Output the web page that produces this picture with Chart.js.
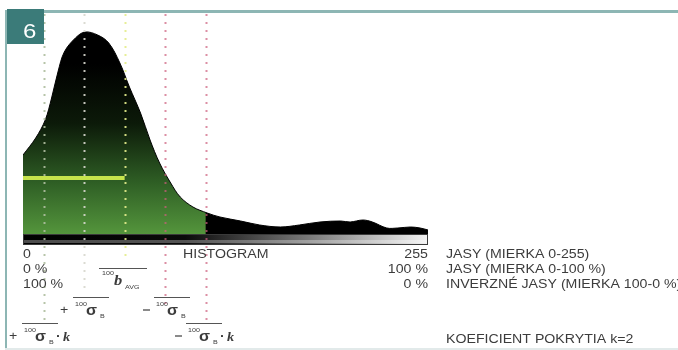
<!DOCTYPE html>
<html>
<head>
<meta charset="utf-8">
<script src="https://cdn.jsdelivr.net/npm/chart.js@4/dist/chart.umd.min.js"></script>
<style>
    html, body { margin: 0; padding: 0; background: #fff; }
    canvas { display: block; }
</style>
</head>
<body>
<canvas id="histChart" width="678" height="350"></canvas>
<script>
/* ======================
   DATA
====================== */
// brightness (0-255) and histogram height
const histX = [0, 8, 14, 18, 22, 26, 33, 39, 47, 54, 61, 67, 74, 80, 86, 93, 99, 107, 116, 124,
               137, 149, 162, 174, 187, 200, 206, 214, 220, 229, 236, 244, 250, 255];
const histY = [39.5, 48, 57, 68, 81, 91, 98, 101, 99.5, 95.5, 85.5, 73.5, 60.5, 47, 35.5, 25.5, 18.5, 13.5, 10.5, 8.5,
               6.5, 4.5, 3.5, 4.5, 6, 6.5, 6, 7, 6, 3, 3, 3.5, 3, 2];

// vertical markers: avg -/+ sigma*k, avg -/+ sigma, avg
const markerX = [13, 38.5, 64, 89.5, 115];
const avgLevel = [28];

// scale captions under the histogram
const scaleLeft = ["0", "0 %", "100 %"];
const scaleRight = ["255", "100 %", "0 %"];
const scaleNames = ["JASY (MIERKA 0-255)", "JASY (MIERKA 0-100 %)", "INVERZNÉ JASY (MIERKA 100-0 %)"];
const axisTitle = "HISTOGRAM";
const noteText = "KOEFICIENT POKRYTIA k=2";
const badgeText = "6";

/* ======================
   HELPERS
====================== */
const SANS = '"Liberation Sans", Arial, sans-serif';
const SERIF = '"Liberation Serif", "Times New Roman", serif';
const TEXT = "#3c3c3c";

function txt(ctx, s, x, y, font, color, align, sx) {
    ctx.save();
    ctx.translate(x, y);
    ctx.scale(sx || 1.18, 1);
    ctx.font = font;
    ctx.fillStyle = color || TEXT;
    ctx.textAlign = align || "left";
    ctx.textBaseline = "alphabetic";
    ctx.fillText(s, 0, 0);
    ctx.restore();
}

function hline(ctx, x1, x2, y, color, w) {
    ctx.save();
    ctx.strokeStyle = color;
    ctx.lineWidth = w || 1;
    ctx.beginPath();
    ctx.moveTo(x1, y);
    ctx.lineTo(x2, y);
    ctx.stroke();
    ctx.restore();
}

// overlined sigma label, x = start of the overline, oy = overline y
function sigmaLabel(ctx, sign, x, oy, withK) {
    const base = oy + 18;
    if (sign === "+") {
        txt(ctx, "+", x - 13, base - 1, "12px " + SANS);
    } else {
        hline(ctx, x - 11, x - 4, base - 5, TEXT, 1.2);
    }
    hline(ctx, x, x + 36, oy + 0.5, "#555", 1);
    txt(ctx, "100", x + 2, base - 9, "6px " + SANS);
    txt(ctx, "σ", x + 13, base, "bold 14px " + SANS, TEXT, "left", 1.15);
    txt(ctx, "B", x + 27, base + 3, "6px " + SANS);
    if (withK) {
        txt(ctx, "·", x + 34, base - 1, "bold 12px " + SANS);
        txt(ctx, "k", x + 41, base, "italic bold 13px " + SERIF, TEXT, "left", 1.1);
    }
}

let fillCache = null;
function histFill(context) {
    const chart = context.chart;
    const area = chart.chartArea;
    if (!area) return "#000";
    if (fillCache) return fillCache;
    const cut = chart.scales.x.getPixelForValue(markerX[4]);
    const off = document.createElement("canvas");
    off.width = chart.width;
    off.height = chart.height;
    const g = off.getContext("2d");
    g.fillStyle = "#000";
    g.fillRect(0, 0, off.width, off.height);
    const grad = g.createLinearGradient(0, area.top + 50, 0, area.bottom);
    grad.addColorStop(0, "#000000");
    grad.addColorStop(0.35, "#0c1a09");
    grad.addColorStop(0.7, "#2f5f25");
    grad.addColorStop(1, "#54953c");
    g.fillStyle = grad;
    g.fillRect(0, 0, cut, off.height);
    fillCache = chart.ctx.createPattern(off, "no-repeat");
    return fillCache;
}

/* ======================
   DECORATION PLUGIN
====================== */
const decor = {
    id: "decor",
    beforeDraw(chart) {
        const ctx = chart.ctx;
        ctx.save();
        ctx.fillStyle = "#fff";
        ctx.fillRect(0, 0, chart.width, chart.height);
        ctx.restore();
    },
    afterDatasetsDraw(chart) {
        const ctx = chart.ctx;
        const xs = chart.scales.x;
        const area = chart.chartArea;
        const x0 = xs.getPixelForValue(0);
        const x1 = xs.getPixelForValue(255);

        /* brightness bar */
        const barTop = area.bottom, barH = 11;
        ctx.save();
        const bg = ctx.createLinearGradient(x0, 0, x1, 0);
        bg.addColorStop(0, "#000");
        bg.addColorStop(0.4, "#0a0a0a");
        bg.addColorStop(0.7, "#777");
        bg.addColorStop(1, "#f2f2f2");
        ctx.fillStyle = bg;
        ctx.fillRect(x0, barTop, x1 - x0, barH);
        ctx.fillStyle = "rgba(255,255,255,0.3)";
        ctx.fillRect(x0, barTop + 6, x1 - x0, 3);
        ctx.strokeStyle = "#3a3a3a";
        ctx.lineWidth = 1;
        ctx.strokeRect(x0 + 0.5, barTop + 0.5, x1 - x0 - 1, barH - 1);
        ctx.restore();

        /* dotted marker lines */
        const dotColors = ["rgba(175,190,160,0.9)", "rgba(215,215,205,0.9)", "rgba(228,236,140,0.9)",
                           "rgba(205,95,125,0.7)", "rgba(205,95,125,0.7)"];
        const dotEnds = [326, 294, 262, 306, 320];
        markerX.forEach((v, i) => {
            const px = Math.round(xs.getPixelForValue(v)) + 0.5;
            ctx.save();
            ctx.strokeStyle = dotColors[i];
            ctx.lineWidth = 2;
            ctx.setLineDash([2, 6]);
            ctx.beginPath();
            ctx.moveTo(px, 14);
            ctx.lineTo(px, dotEnds[i]);
            ctx.stroke();
            ctx.restore();
        });

        /* scale captions */
        const rows = [258, 273, 288];
        const F = "12px " + SANS;
        rows.forEach((y, i) => {
            txt(ctx, scaleLeft[i], x0, y, F);
            txt(ctx, scaleRight[i], x1, y, F, TEXT, "right");
            txt(ctx, scaleNames[i], 446, y, F);
        });
        txt(ctx, axisTitle, 183, rows[0], F);
        txt(ctx, noteText, 446, 343, F);

        /* average label */
        hline(ctx, 99, 147, 268.5, "#555", 1);
        txt(ctx, "100", 102, 275, "6px " + SANS);
        txt(ctx, "b", 114, 285, "italic bold 15px " + SERIF, TEXT, "left", 1.1);
        txt(ctx, "AVG", 125, 289, "6px " + SANS);

        /* sigma labels */
        sigmaLabel(ctx, "+", 73, 297, false);
        sigmaLabel(ctx, "-", 154, 297, false);
        sigmaLabel(ctx, "+", 22, 323, true);
        sigmaLabel(ctx, "-", 186, 323, true);

        /* frame + badge */
        ctx.save();
        ctx.fillStyle = "#8db6b4";
        ctx.fillRect(7, 10, chart.width - 7, 3);
        ctx.fillRect(5, 10, 2, chart.height - 10);
        ctx.fillStyle = "#e2eaea";
        ctx.fillRect(5, chart.height - 2, chart.width - 5, 2);
        ctx.fillStyle = "#3b7b79";
        ctx.fillRect(7, 9, 37, 35);
        ctx.restore();
        txt(ctx, badgeText, 23, 38, "20px " + SANS, "#fff", "left", 1.2);
    }
};

/* ======================
   CHART
====================== */
const points = histX.map((x, i) => ({ x: x, y: histY[i] }));

new Chart(document.getElementById("histChart"), {
    type: "line",
    data: {
        datasets: [
            {
                data: [{ x: 0, y: avgLevel[0] }, { x: markerX[2], y: avgLevel[0] }],
                borderColor: "#c6e44c",
                borderWidth: 4,
                pointRadius: 0,
                fill: false,
                order: 0,
            },
            {
                data: points,
                borderColor: "#000",
                borderWidth: 1,
                backgroundColor: histFill,
                pointRadius: 0,
                fill: "origin",
                tension: 0.35,
                order: 1,
            },
        ],
    },
    options: {
        responsive: false,
        devicePixelRatio: 1,
        animation: false,
        layout: { padding: { left: 23, right: 250, top: 14, bottom: 116 } },
        scales: {
            x: { type: "linear", min: 0, max: 255, display: false },
            y: { type: "linear", min: 0, max: 110, display: false },
        },
        plugins: { legend: { display: false }, tooltip: { enabled: false } },
    },
    plugins: [decor],
});
</script>
</body>
</html>
